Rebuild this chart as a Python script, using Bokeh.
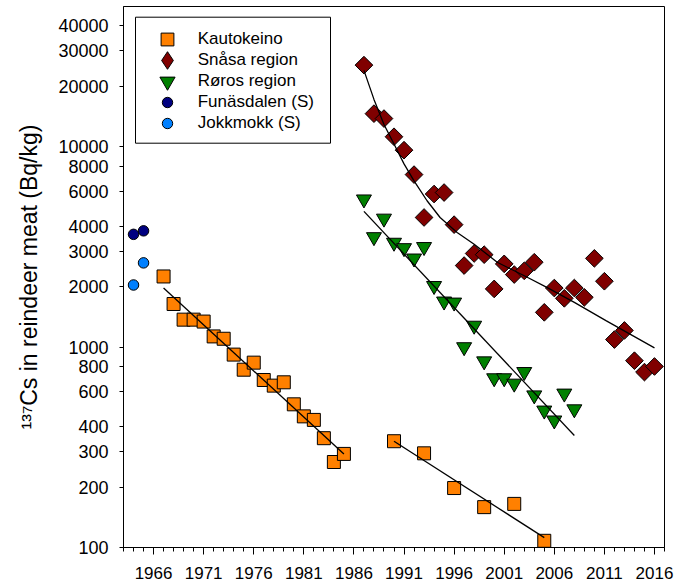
import math
from bokeh.plotting import figure
from bokeh.models import (Range1d, FixedTicker, PrintfTickFormatter,
                          Legend, LegendItem, BoxAnnotation)
from bokeh.embed import file_html
from bokeh.resources import INLINE

FONT = "Liberation Sans"

# ---------------- data ----------------
kau_year = [1967, 1968, 1969, 1970, 1971, 1972, 1973, 1974, 1975, 1976, 1977,
            1978, 1979, 1980, 1981, 1982, 1983, 1984, 1985,
            1990, 1993, 1996, 1999, 2002, 2005]
kau_value = [2250, 1640, 1370, 1370, 1340, 1130, 1100, 917, 771, 836, 685,
             642, 667, 518, 451, 433, 351, 267, 293,
             339, 295, 198, 159, 165, 108]

sna_year = [1987, 1988, 1989, 1990, 1991, 1992, 1993, 1994, 1995, 1996,
            1997, 1998, 1999, 2000, 2001, 2002, 2003, 2004, 2005, 2006,
            2007, 2008, 2009, 2010, 2011, 2012, 2013, 2014, 2015, 2016]
sna_value = [25500, 14600, 13800, 11200, 9600, 7250, 4430, 5800, 5900, 4080,
             2550, 2930, 2890, 1950, 2600, 2300, 2400, 2650, 1490, 1970,
             1750, 1970, 1770, 2770, 2130, 1090, 1210, 855, 750, 800]

ror_year = [1987, 1988, 1989, 1990, 1991, 1992, 1993, 1994, 1995, 1996, 1997,
            1998, 1999, 2000, 2001, 2002, 2003, 2004, 2005, 2006, 2007, 2008]
ror_value = [5460, 3540, 4380, 3320, 3120, 2770, 3160, 2020, 1690, 1670, 1000,
             1280, 850, 700, 700, 658, 752, 575, 483, 431, 587, 490]

fun_year = [1964, 1965]
fun_value = [3650, 3800]

jok_year = [1964, 1965]
jok_value = [2040, 2630]

# fitted trend lines as drawn in the reference
kau_trend1_year = [1967, 1985]
kau_trend1_value = [1970, 293]
kau_trend2_year = [1990, 2005]
kau_trend2_value = [339, 112]
ror_trend_year = [1987, 2008]
ror_trend_value = [4750, 362]
sna_trend_year = [1987, 1988, 1989, 1990, 1991, 1992, 1993.3, 1994.6, 1996.3,
                  1998, 2000.3, 2003.3, 2005.3, 2008, 2011.2, 2016]
sna_trend_value = [24000, 17200, 12900, 10300, 8200, 6750, 5370, 4430, 3730,
                   3260, 2650, 2230, 1980, 1670, 1350, 990]

x_major_ticks = [1966, 1971, 1976, 1981, 1986, 1991, 1996, 2001, 2006, 2011, 2016]
x_minor_ticks = list(range(1963, 2018))
y_ticks = [100, 200, 300, 400, 600, 800, 1000, 2000, 3000, 4000, 6000, 8000,
           10000, 20000, 30000, 40000]

labels = ["Kautokeino", "Snåsa region", "Røros region", "Funäsdalen (S)", "Jokkmokk (S)"]
y_title = "¹³⁷Cs in reindeer meat (Bq/kg)"

# ---------------- figure ----------------
FL, FR, FT, FB = 123, 664, 6, 547   # frame edges in page pixels
W, H = 685, 588
p = figure(width=W, height=H, output_backend="svg", toolbar_location=None,
           x_range=Range1d(1963, 2017), y_range=Range1d(100, 50000),
           y_axis_type="log",
           min_border_left=FL, min_border_right=W - FR,
           min_border_top=FT, min_border_bottom=H - FB,
           background_fill_color="white", border_fill_color="white")
p.grid.visible = False
p.outline_line_color = "black"
p.outline_line_width = 1
p.outline_line_alpha = 1

xa = p.xaxis[0]
xa.ticker = FixedTicker(ticks=x_major_ticks, minor_ticks=x_minor_ticks)
xa.formatter = PrintfTickFormatter(format="%d")
xa.major_tick_out = 7
xa.major_tick_in = 0
xa.minor_tick_out = 4
xa.minor_tick_in = 0
xa.major_label_standoff = 12
xa.major_label_text_font = FONT
xa.major_label_text_font_size = "17px"
xa.major_label_text_color = "black"

ya = p.yaxis[0]
ya.ticker = FixedTicker(ticks=y_ticks, minor_ticks=[])
ya.formatter = PrintfTickFormatter(format="%d")
ya.major_tick_out = 4
ya.major_tick_in = 0
ya.minor_tick_out = 0
ya.minor_tick_in = 0
ya.major_label_standoff = 11
ya.major_label_text_font = FONT
ya.major_label_text_font_size = "18px"
ya.major_label_text_color = "black"
ya.axis_label = y_title
ya.axis_label_text_font = FONT
ya.axis_label_text_font_size = "23px"
ya.axis_label_text_font_style = "normal"
ya.axis_label_text_color = "black"
ya.axis_label_standoff = 13

for ax in (xa, ya):
    ax.axis_line_color = "black"
    ax.major_tick_line_color = "black"
    ax.minor_tick_line_color = "black"

# ---------------- markers ----------------
r_kau = p.scatter(kau_year, kau_value, marker="square", size=13,
                  fill_color="#FF8000", line_color="black", line_width=1)
r_sna = p.scatter(sna_year, sna_value, marker="square", size=12.5, angle=math.pi / 4,
                  fill_color="#800000", line_color="black", line_width=1)
r_ror = p.scatter(ror_year, ror_value, marker="inverted_triangle", size=15,
                  fill_color="#008000", line_color="black", line_width=1)
r_fun = p.scatter(fun_year, fun_value, marker="circle", size=10.5,
                  fill_color="#000080", line_color="black", line_width=1)
r_jok = p.scatter(jok_year, jok_value, marker="circle", size=10.5,
                  fill_color="#0080FF", line_color="black", line_width=1)
# hidden twin of the Snåsa series, used only for the diamond legend key
r_sna_key = p.scatter(sna_year, sna_value, marker="diamond", size=17,
                      fill_color="#800000", line_color="black", line_width=1,
                      visible=False)

# ---------------- trend lines ----------------
for tx, ty in ((kau_trend1_year, kau_trend1_value),
               (kau_trend2_year, kau_trend2_value),
               (ror_trend_year, ror_trend_value),
               (sna_trend_year, sna_trend_value)):
    p.line(tx, ty, line_color="black", line_width=1.3)

# ---------------- legend (frame-relative screen px, y from bottom) ----------------
box = BoxAnnotation(left=135 - FL, right=330 - FL, bottom=FB - 142.7, top=FB - 16.7,
                    left_units="screen", right_units="screen",
                    top_units="screen", bottom_units="screen",
                    fill_color="white", fill_alpha=1,
                    line_color="black", line_width=1, line_alpha=1)
p.add_layout(box)

marker_cx = 166.7 - FL
text_x = 197.7 - FL
row_y = [39, 60, 81, 101.5, 122.5]
glyph_box = [32, 44, 38, 26, 26]
rends = [r_kau, r_sna_key, r_ror, r_fun, r_jok]
for lab, r, g, ry in zip(labels, rends, glyph_box, row_y):
    lg = Legend(items=[LegendItem(label=lab, renderers=[r])],
                location=(marker_cx - g / 2, (FB - ry) - g / 2),
                glyph_width=g, glyph_height=g, label_height=g,
                label_standoff=int(round(text_x - (marker_cx + g / 2))),
                padding=0, margin=0, spacing=0,
                border_line_alpha=0, background_fill_alpha=0,
                label_text_font=FONT, label_text_font_size="17px",
                label_text_color="black")
    p.add_layout(lg)

open("out.html", "w").write(file_html(p, INLINE))
